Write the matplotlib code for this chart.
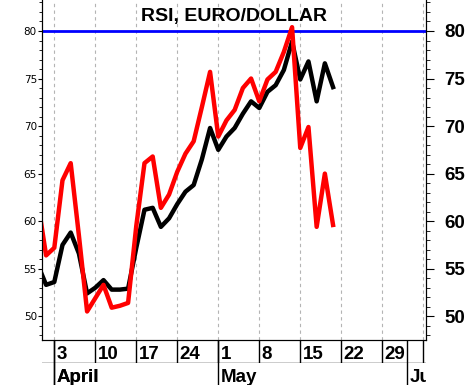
import matplotlib
matplotlib.use("Agg")
import matplotlib.pyplot as plt
from matplotlib.ticker import MultipleLocator
import pandas as pd

# trading days, first one (Mar 30) sits just left of the visible range
days = pd.bdate_range("2000-03-30", "2000-06-09")

rsi_fast = [62.0, 56.4, 57.2, 64.3, 66.1, 58.5, 50.5, 51.9, 53.3, 50.9,
            51.1, 51.4, 59.5, 66.1, 66.8, 61.4, 62.8, 65.2, 67.1, 68.4,
            72.0, 75.7, 68.9, 70.6, 71.7, 74.0, 75.0, 72.6, 74.9, 75.7,
            77.8, 80.4, 67.7, 69.9, 59.4, 65.0, 59.6]
rsi_slow = [55.4, 53.3, 53.6, 57.5, 58.8, 56.6, 52.4, 53.0, 53.8, 52.8,
            52.8, 52.9, 57.2, 61.2, 61.4, 59.4, 60.3, 61.8, 63.1, 63.8,
            66.5, 69.8, 67.5, 68.9, 69.8, 71.3, 72.6, 71.9, 73.6, 74.3,
            75.9, 78.9, 74.9, 76.8, 72.6, 76.6, 74.1]
overbought = 80

pos = [i - 2 for i in range(len(days))]   # Apr 3 -> 0
x = pos[:len(rsi_fast)]

week_pos = [p for p, d in zip(pos, days) if d.weekday() == 0 and p >= 0]
week_lbl = [str(d.day) for p, d in zip(pos, days) if d.weekday() == 0 and p >= 0]
month_pos, month_lbl = [], []
for i in range(1, len(days)):
    if days[i].month != days[i - 1].month:
        month_pos.append(pos[i])
        month_lbl.append(days[i].strftime("%B"))

bold = dict(fontweight="bold", family="Liberation Sans", fontsize=13.5)

fig = plt.figure(figsize=(4.67, 3.85), dpi=100)
L, R = 42 / 467, 425.7 / 467
W = R - L
ax = fig.add_axes([L, 45 / 385, W, 340 / 385])
ax.set_xlim(-1.5, 45.3)
ax.set_ylim(47.5, 83.26)
ax.spines["top"].set_visible(False)
ax.set_xticks([])

for p in week_pos:
    ax.axvline(p, color="#b4b4b4", lw=0.8, ls=(0, (3, 3)), zorder=0)
ax.axhline(overbought, color="#0000ff", lw=2, zorder=2)
ax.plot(x, rsi_slow, color="black", lw=3.2, zorder=3)
ax.plot(x, rsi_fast, color="#ff0000", lw=3.2, zorder=4)

ax.text(0.5, 1 - 20.7 / 340, "RSI, EURO/DOLLAR", transform=ax.transAxes,
        ha="center", va="baseline", fontsize=14, fontweight="bold",
        family="Liberation Sans")

ax.yaxis.set_major_locator(MultipleLocator(5))
ax.yaxis.set_minor_locator(MultipleLocator(1))
ax.tick_params(axis="y", which="major", length=2.9, labelsize=7.5, pad=0.8)
ax.tick_params(axis="y", which="minor", length=2.2)

axr = ax.twinx()
axr.set_ylim(ax.get_ylim())
axr.spines["top"].set_visible(False)
axr.set_yticks(range(50, 81, 5))
axr.set_yticklabels([str(v) for v in range(50, 81, 5)], **bold)
axr.yaxis.set_minor_locator(MultipleLocator(1))
axr.tick_params(axis="y", which="major", length=5.5, pad=8)
axr.tick_params(axis="y", which="minor", length=2.7)

# date row
axd = fig.add_axes([L, 22 / 385, W, 23 / 385])
axd.set_xlim(ax.get_xlim())
axd.set_ylim(0, 1)
axd.axis("off")
axd.axhline(0, color="black", lw=1)
for p, s in zip(week_pos, week_lbl):
    axd.axvline(p, color="black", lw=1)
    axd.text(p + 0.3, 0.16, s, va="baseline", clip_on=True, **bold)
for p in month_pos:
    axd.axvline(p, color="black", lw=1)

# month row
axm = fig.add_axes([L, 0, W, 22 / 385])
axm.set_xlim(ax.get_xlim())
axm.set_ylim(0, 1)
axm.axis("off")
axm.axvline(week_pos[0], color="black", lw=1)
axm.text(week_pos[0] + 0.3, 0.15, "April", va="baseline", clip_on=True, **bold)
for p, s in zip(month_pos, month_lbl):
    axm.axvline(p, color="black", lw=1)
    axm.text(p + 0.3, 0.15, s, va="baseline", clip_on=True, **bold)

fig.savefig("out.png", dpi=100)
